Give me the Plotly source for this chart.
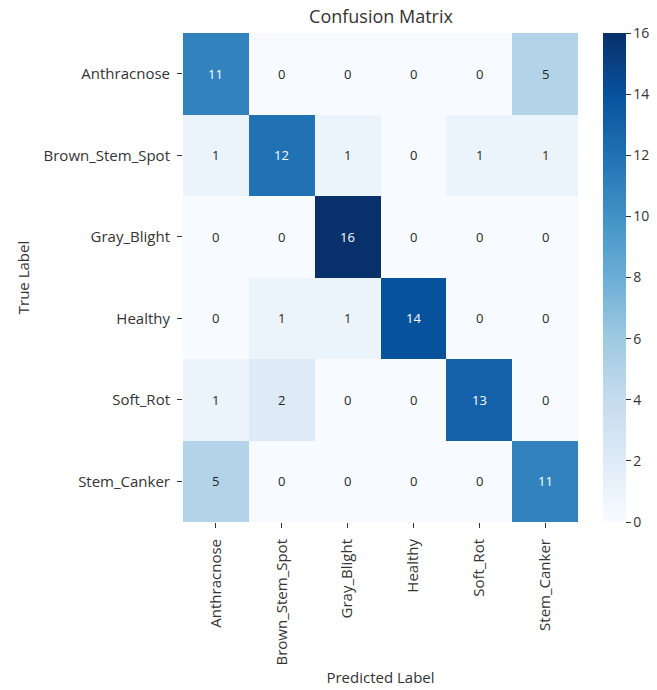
import plotly.graph_objects as go

# Class names (shared by both axes)
classes = ["Anthracnose", "Brown_Stem_Spot", "Gray_Blight", "Healthy", "Soft_Rot", "Stem_Canker"]

# Confusion counts: rows = true label, columns = predicted label
counts = [
    [11, 0, 0, 0, 0, 5],
    [1, 12, 1, 0, 1, 1],
    [0, 0, 16, 0, 0, 0],
    [0, 1, 1, 14, 0, 0],
    [1, 2, 0, 0, 13, 0],
    [5, 0, 0, 0, 0, 11],
]

cbar_ticks = [0, 2, 4, 6, 8, 10, 12, 14, 16]

font_family = "Open Sans, DejaVu Sans, Arial, sans-serif"
text_grey = "#333333"

fig = go.Figure(
    go.Heatmap(
        z=counts,
        x=classes,
        y=classes,
        colorscale="Blues",
        zmin=0,
        zmax=16,
        colorbar=dict(
            xref="container",
            x=603 / 657,
            xanchor="left",
            xpad=0,
            y=0.5,
            yanchor="middle",
            ypad=0,
            len=1.0,
            thickness=23,
            outlinewidth=0,
            tickvals=cbar_ticks,
            ticks="outside",
            ticklen=5,
            tickcolor=text_grey,
            tickfont=dict(family=font_family, size=14, color=text_grey),
        ),
        hoverinfo="skip",
    )
)

# Cell counts: light text on dark cells, dark text on light cells
annotations = []
for i, row in enumerate(counts):
    for j, v in enumerate(row):
        annotations.append(
            dict(
                x=classes[j],
                y=classes[i],
                text=str(v),
                showarrow=False,
                font=dict(family=font_family, size=13,
                          color="white" if v > 8 else "#262626"),
            )
        )

fig.update_layout(
    width=657,
    height=690,
    margin=dict(l=183, r=79, t=33, b=168, autoexpand=False),
    paper_bgcolor="white",
    plot_bgcolor="white",
    annotations=annotations,
    title=dict(
        text="Confusion Matrix",
        x=381 / 657,
        xanchor="center",
        y=1 - 17 / 690,
        yanchor="middle",
        font=dict(family=font_family, size=18, color=text_grey),
    ),
    xaxis=dict(
        title=dict(text="Predicted Label", standoff=8,
                   font=dict(family=font_family, size=15, color=text_grey)),
        automargin=False,
        tickangle=-90,
        ticks="outside",
        ticklen=5,
        ticklabelstandoff=5,
        tickcolor=text_grey,
        tickfont=dict(family=font_family, size=15, color=text_grey),
        showgrid=False,
        zeroline=False,
        showline=False,
    ),
    yaxis=dict(
        title=dict(text="True Label", standoff=10,
                   font=dict(family=font_family, size=15, color=text_grey)),
        automargin=False,
        autorange="reversed",
        ticks="outside",
        ticklen=5,
        ticklabelstandoff=4,
        tickcolor=text_grey,
        tickfont=dict(family=font_family, size=15, color=text_grey),
        showgrid=False,
        zeroline=False,
        showline=False,
    ),
)

fig.write_html("out.html")
